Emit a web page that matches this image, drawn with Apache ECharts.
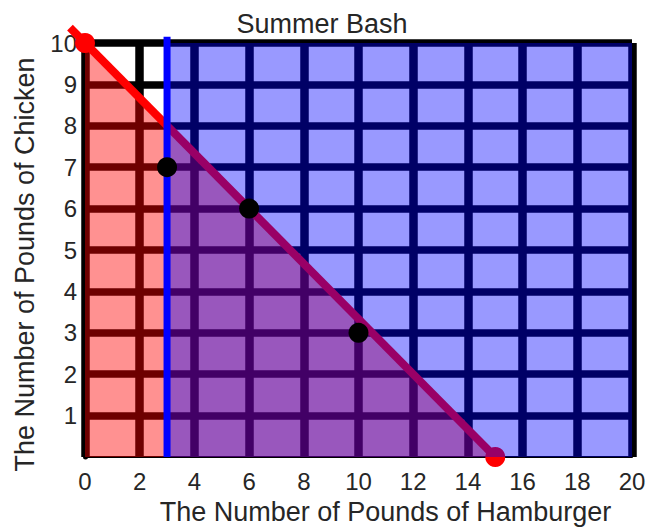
<!DOCTYPE html>
<html>
<head>
<meta charset="utf-8">
<script src="https://cdn.jsdelivr.net/npm/echarts@6/dist/echarts.min.js"></script>
<style>html,body{margin:0;padding:0;background:#fff;}#c{width:655px;height:527px;}</style>
</head>
<body>
<div id="c"></div>
<script>
// Data
const titleText = 'Summer Bash';
const xName = 'The Number of Pounds of Hamburger';
const yName = 'The Number of Pounds of Chicken';
const xTicks = [0, 2, 4, 6, 8, 10, 12, 14, 16, 18, 20];
const yTicks = [1, 2, 3, 4, 5, 6, 7, 8, 9, 10];
const redRegion = [[0, 10], [15, 0]];            // area under budget line
const redLine = [[-0.55, 10.37], [15, 0]];        // budget line (extends slightly past y-axis)
const redEnds = [[0, 10], [15, 0]];               // intercept points
const blueRegion = [[3, 10], [20, 10]];           // x >= 3 region
const blueLine = [[3, 0], [3, 10.15]];            // x = 3 boundary
const blackPoints = [[3, 7], [6, 6], [10, 3]];    // candidate points

const FONT = '"Liberation Sans", Arial, sans-serif';
const TXT = '#262626';
const chart = echarts.init(document.getElementById('c'), null, {renderer: 'svg'});
chart.setOption({
  animation: false,
  backgroundColor: '#fff',
  title: {
    text: titleText, left: 317, top: 5, textAlign: 'center',
    textStyle: {fontFamily: FONT, fontSize: 27, fontWeight: 'normal', color: TXT}
  },
  grid: {left: 85, top: 43, width: 547, height: 414, containLabel: false, outerBoundsMode: 'none'},
  xAxis: {
    type: 'value', min: xTicks[0], max: xTicks[xTicks.length - 1], interval: 2,
    name: xName, nameLocation: 'middle', nameGap: 41,
    nameTextStyle: {fontFamily: FONT, fontSize: 27, color: TXT, padding: [0, 0, 0, 54]},
    axisLine: {show: true, onZero: false, lineStyle: {color: '#000', width: 2}},
    axisTick: {show: false},
    axisLabel: {fontFamily: FONT, fontSize: 24, color: TXT, margin: 12},
    splitLine: {show: true, showMinLine: true, showMaxLine: true, lineStyle: {color: '#000', width: 8.5}}
  },
  yAxis: {
    type: 'value', min: 0, max: yTicks[yTicks.length - 1], interval: 1,
    name: yName, nameLocation: 'middle', nameGap: 47,
    nameTextStyle: {fontFamily: FONT, fontSize: 27, color: TXT, padding: [0, 29, 0, 0]},
    axisLine: {show: true, onZero: false, lineStyle: {color: '#000', width: 5}},
    axisTick: {show: false},
    axisLabel: {fontFamily: FONT, fontSize: 24, color: TXT, margin: 8,
      formatter: v => (yTicks.indexOf(v) >= 0 ? String(v) : '')},
    splitLine: {show: true, showMinLine: false, showMaxLine: true, lineStyle: {color: '#000', width: 7.5}}
  },
  series: [
    {type: 'line', data: redRegion, z: 1, showSymbol: false, silent: true,
     lineStyle: {width: 0}, areaStyle: {color: 'rgba(255,0,0,0.43)', origin: 'start', opacity: 1}},
    {type: 'custom', z: 2, silent: true, clip: false,
     data: [redLine[0].concat(redLine[1])],
     renderItem: function (params, api) {
       const p1 = api.coord([api.value(0), api.value(1)]);
       const p2 = api.coord([api.value(2), api.value(3)]);
       return {type: 'line', shape: {x1: p1[0], y1: p1[1], x2: p2[0], y2: p2[1]},
               style: {stroke: '#ff0000', lineWidth: 8}};
     }},
    {type: 'scatter', data: redEnds, z: 2, symbolSize: 20, clip: false, silent: true,
     itemStyle: {color: '#ff0000', opacity: 1}},
    {type: 'line', data: blueRegion, z: 3, showSymbol: false, silent: true,
     lineStyle: {width: 0}, areaStyle: {color: 'rgba(0,0,255,0.4)', origin: 'start', opacity: 1}},
    {type: 'line', data: blueLine, z: 4, showSymbol: false, clip: false, silent: true,
     lineStyle: {color: '#0000ff', width: 7}},
    {type: 'scatter', data: blackPoints, z: 5, symbolSize: 20, silent: true,
     itemStyle: {color: '#000', opacity: 1}}
  ]
});
</script>
</body>
</html>
